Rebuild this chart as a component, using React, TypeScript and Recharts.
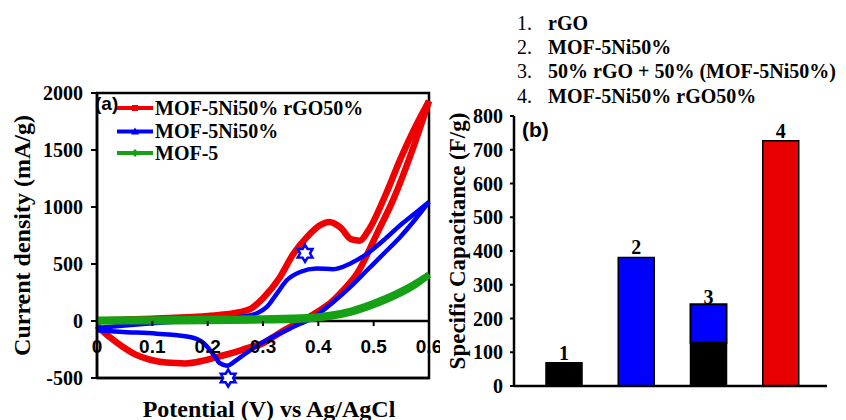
import React from "react"
import {
    ComposedChart,
    Line,
    Scatter,
    XAxis,
    YAxis,
    ReferenceArea,
    ReferenceLine,
    Legend,
    BarChart,
    Bar,
    Cell,
    LabelList
} from "recharts"

const SERIF = '"Liberation Serif", "Times New Roman", serif'
const SANS = '"Liberation Sans", Arial, sans-serif'

// (a) CV loops: forward (anodic) and reverse (cathodic) sweeps, both listed by rising potential
const redFwdV = [0, 0.05, 0.1, 0.15, 0.2, 0.25, 0.28, 0.3, 0.33, 0.355, 0.38, 0.405, 0.42, 0.44, 0.46, 0.475, 0.49, 0.52, 0.55, 0.575, 0.6]
const redFwdJ = [5, 12, 20, 30, 45, 70, 115, 200, 380, 590, 740, 845, 868, 820, 715, 705, 790, 1090, 1440, 1700, 1930]
const redRevV = [0, 0.025, 0.047, 0.07, 0.096, 0.125, 0.16, 0.19, 0.216, 0.245, 0.27, 0.3, 0.325, 0.35, 0.373, 0.395, 0.421, 0.445, 0.47, 0.506, 0.535, 0.57, 0.6]
const redRevJ = [-40, -150, -228, -295, -340, -365, -372, -350, -316, -280, -240, -195, -120, -50, 6, 70, 155, 270, 416, 767, 1060, 1500, 1930]

const blueFwdV = [0, 0.05, 0.1, 0.16, 0.2, 0.246, 0.275, 0.29, 0.307, 0.325, 0.343, 0.367, 0.397, 0.427, 0.458, 0.488, 0.518, 0.548, 0.575, 0.6]
const blueFwdJ = [-62, -40, -20, 0, 12, 30, 48, 70, 123, 240, 357, 430, 460, 455, 505, 590, 708, 840, 945, 1044]
const blueRevV = [0, 0.048, 0.108, 0.168, 0.192, 0.21, 0.222, 0.235, 0.25, 0.27, 0.3, 0.349, 0.397, 0.427, 0.458, 0.488, 0.518, 0.548, 0.575, 0.6]
const blueRevJ = [-82, -96, -111, -140, -190, -290, -370, -392, -350, -280, -185, -65, 50, 167, 300, 445, 590, 737, 890, 1044]

const greenV = [0, 0.1, 0.2, 0.3, 0.38, 0.42, 0.46, 0.5, 0.54, 0.57, 0.6]
const greenFwdJ = [12, 14, 17, 22, 32, 52, 92, 158, 240, 315, 405]
const greenRevJ = [-4, -2, 0, 6, 16, 36, 76, 140, 222, 300, 405]

// redox peak markers
const markV = [0.376, 0.237]
const markJ = [594, -500]

const potentialTicks = [0, 0.1, 0.2, 0.3, 0.4, 0.5, 0.6]
const currentTicks = [-500, 0, 500, 1000, 1500, 2000]

// (b) specific capacitance
const sampleIds = ["1", "2", "3", "4"]
const sampleNames = ["rGO", "MOF-5Ni50%", "50% rGO + 50% (MOF-5Ni50%)", "MOF-5Ni50% rGO50%"]
const baseCapacitance = [69, 381, 128, 727]
const topCapacitance = [0, 0, 114, 0]
const baseLabels = ["1", "2", "", "4"]
const topLabels = ["", "", "3", ""]
const barColors = ["#000000", "#0000FF", "#000000", "#E60000"]
const capacitanceTicks = [0, 100, 200, 300, 400, 500, 600, 700, 800]

const RED = "#F00000"
const BLUE = "#0000FF"
const GREEN = "#16A016"

const toPoints = (v: number[], j: number[]) => v.map((x, i) => ({ v: x, j: j[i] }))

const redFwd = toPoints(redFwdV, redFwdJ)
const redRev = toPoints(redRevV, redRevJ)
const blueFwd = toPoints(blueFwdV, blueFwdJ)
const blueRev = toPoints(blueRevV, blueRevJ)
const greenFwd = toPoints(greenV, greenFwdJ)
const greenRev = toPoints(greenV, greenRevJ)
const marks = toPoints(markV, markJ)

const capData = sampleIds.map((id, i) => ({
    id,
    name: sampleNames[i],
    base: baseCapacitance[i],
    top: topCapacitance[i],
    baseLabel: baseLabels[i],
    topLabel: topLabels[i],
}))

// x ticks of (a) sit under the zero line, not under the plot bottom
// eslint-disable-next-line @typescript-eslint/no-explicit-any
function PotentialTick({ x, y, payload }: any) {
    return (
        <g>
            <line x1={x} x2={x} y1={y - 57} y2={y - 52} stroke="#000" strokeWidth={2} />
            <text x={x} y={y - 25} textAnchor="middle" fontFamily={SANS} fontWeight="bold" fontSize={19} fill="#000">
                {payload.value}
            </text>
        </g>
    )
}

// six-pointed star outline used to flag the peaks
// eslint-disable-next-line @typescript-eslint/no-explicit-any
function Hexagram({ cx, cy }: any) {
    const pts: string[] = []
    for (let k = 0; k < 12; k++) {
        const r = k % 2 === 0 ? 8.5 : 5
        const a = -Math.PI / 2 + (k * Math.PI) / 6
        pts.push(`${cx + r * Math.cos(a)},${cy + r * Math.sin(a)}`)
    }
    return <polygon points={pts.join(" ")} fill="#fff" stroke={BLUE} strokeWidth={2.5} />
}

// eslint-disable-next-line @typescript-eslint/no-explicit-any
const XTitleA = (props: any) => {
    const vb = props.viewBox || { x: 97, y: 378, width: 332, height: 42 }
    return (
        <text x={vb.x + vb.width / 2 + 6} y={vb.y + 39} textAnchor="middle" fontFamily={SERIF} fontWeight="bold" fontSize={24} fill="#000">
            Potential (V) vs Ag/AgCl
        </text>
    )
}

// eslint-disable-next-line @typescript-eslint/no-explicit-any
const YTitleA = (props: any) => {
    const vb = props.viewBox || { x: 0, y: 93, width: 97, height: 285 }
    const cx = vb.x + 22
    const cy = vb.y + vb.height / 2
    return (
        <text transform={`translate(${cx},${cy}) rotate(-90)`} textAnchor="middle" dominantBaseline="central" fontFamily={SERIF} fontWeight="bold" fontSize={24} fill="#000">
            Current density (mA/g)
        </text>
    )
}

// eslint-disable-next-line @typescript-eslint/no-explicit-any
const YTitleB = (props: any) => {
    const vb = props.viewBox || { x: 0, y: 116, width: 74, height: 270 }
    const cx = vb.x + 17
    const cy = vb.y + vb.height / 2 - 10
    return (
        <text transform={`translate(${cx},${cy}) rotate(-90)`} textAnchor="middle" dominantBaseline="central" fontFamily={SERIF} fontWeight="bold" fontSize={23} fill="#000">
            Specific Capacitance (F/g)
        </text>
    )
}

function LegendA() {
    const rows = [
        { label: "MOF-5Ni50% rGO50%", color: RED, y: 16, mark: "square" },
        { label: "MOF-5Ni50%", color: BLUE, y: 39.5, mark: "triangle" },
        { label: "MOF-5", color: GREEN, y: 61, mark: "diamond" },
    ]
    return (
        <svg width={300} height={75} style={{ overflow: "visible" }}>
            <text x={3} y={18} fontFamily={SANS} fontWeight="bold" fontSize={19} fill="#000">(a)</text>
            {rows.map(r => (
                <g key={r.label}>
                    <line x1={25} x2={61} y1={r.y} y2={r.y} stroke={r.color} strokeWidth={4} />
                    {r.mark === "square" && <rect x={40} y={r.y - 3} width={6} height={6} fill={r.color} />}
                    {r.mark === "triangle" && <polygon points={`${43},${r.y - 4} ${47},${r.y + 3} ${39},${r.y + 3}`} fill={r.color} />}
                    {r.mark === "diamond" && <polygon points={`${43},${r.y - 4} ${47},${r.y} ${43},${r.y + 4} ${39},${r.y}`} fill={r.color} />}
                    <text x={63} y={r.y + 6.5} fontFamily={SERIF} fontWeight="bold" fontSize={20} fill="#000">{r.label}</text>
                </g>
            ))}
        </svg>
    )
}

function LegendB() {
    return (
        <svg width={336} height={145} style={{ overflow: "visible" }}>
            {sampleNames.map((name, i) => (
                <g key={name}>
                    <text x={7} y={29.5 + i * 24.4} fontFamily={SERIF} fontSize={20} fill="#000">{`${i + 1}.`}</text>
                    <text x={38} y={29.5 + i * 24.4} fontFamily={SERIF} fontWeight="bold" fontSize={20} fill="#000">{name}</text>
                </g>
            ))}
            <text x={12} y={137} fontFamily={SANS} fontWeight="bold" fontSize={21} fill="#000">(b)</text>
        </svg>
    )
}

const axisStroke = { stroke: "#000", strokeWidth: 2.5 }
const serifTick = { fill: "#000", fontFamily: SERIF, fontWeight: "bold", fontSize: 20 }

function PanelA() {
    const lineProps = { dataKey: "j", type: "monotone" as const, dot: false, activeDot: false, isAnimationActive: false }
    return (
        <ComposedChart width={440} height={420} margin={{ top: 93, right: 11, bottom: 0, left: 0 }}>
            <XAxis
                type="number"
                dataKey="v"
                domain={[0, 0.6]}
                ticks={potentialTicks}
                interval={0}
                height={42}
                tickSize={0}
                tickMargin={0}
                tickLine={false}
                axisLine={axisStroke}
                tick={PotentialTick}
                label={XTitleA}
            />
            <YAxis
                type="number"
                domain={[-500, 2000]}
                ticks={currentTicks}
                interval={0}
                width={97}
                tickSize={6}
                tickMargin={8}
                tickLine={{ stroke: "#000", strokeWidth: 2 }}
                axisLine={axisStroke}
                tick={serifTick}
                label={YTitleA}
            />
            <ReferenceArea x1={0} x2={0.6} y1={-500} y2={2000} fill="none" stroke="#000" strokeWidth={2.5} fillOpacity={0} />
            <ReferenceLine y={0} stroke="#000" strokeWidth={2.5} />
            <Line {...lineProps} data={redFwd} stroke={RED} strokeWidth={6.5} />
            <Line {...lineProps} data={redRev} stroke={RED} strokeWidth={6.5} />
            <Line {...lineProps} data={blueFwd} stroke={BLUE} strokeWidth={4.5} />
            <Line {...lineProps} data={blueRev} stroke={BLUE} strokeWidth={4.5} />
            <Line {...lineProps} data={greenFwd} stroke={GREEN} strokeWidth={6.5} />
            <Line {...lineProps} data={greenRev} stroke={GREEN} strokeWidth={6.5} />
            <Scatter data={marks} dataKey="j" shape={Hexagram} isAnimationActive={false} />
            <Legend
                layout="vertical"
                align="center"
                verticalAlign="middle"
                wrapperStyle={{ position: "absolute", left: 92, top: 92, width: 300, height: 75 }}
                content={() => <LegendA />}
            />
        </ComposedChart>
    )
}

function PanelB() {
    return (
        <BarChart width={406} height={420} data={capData} margin={{ top: 116, right: 19, bottom: 0, left: 0 }} barSize={36}>
            <XAxis dataKey="id" height={34} tick={false} tickLine={false} axisLine={axisStroke} padding={{ left: 14, right: 10 }} />
            <XAxis xAxisId="top" orientation="top" dataKey="id" height={0} tick={false} tickLine={false} axisLine={axisStroke} />
            <YAxis
                domain={[0, 800]}
                ticks={capacitanceTicks}
                interval={0}
                width={74}
                tickSize={4}
                tickMargin={7}
                tickLine={{ stroke: "#000", strokeWidth: 2 }}
                axisLine={axisStroke}
                tick={serifTick}
                label={YTitleB}
            />
            <YAxis yAxisId="right" orientation="right" width={0} domain={[0, 800]} tick={false} tickLine={false} axisLine={axisStroke} />
            <Bar dataKey="base" stackId="s" stroke="#000" strokeWidth={1.5} isAnimationActive={false}>
                {capData.map((_, i) => (
                    <Cell key={`c-${i}`} fill={barColors[i]} />
                ))}
                <LabelList dataKey="baseLabel" position="top" offset={3} fill="#000" fontFamily={SERIF} fontWeight="bold" fontSize={20} />
            </Bar>
            <Bar dataKey="top" stackId="s" fill={BLUE} stroke="#000" strokeWidth={2} isAnimationActive={false}>
                <LabelList dataKey="topLabel" position="top" offset={0} fill="#000" fontFamily={SERIF} fontWeight="bold" fontSize={20} />
            </Bar>
            <Legend
                layout="vertical"
                align="center"
                verticalAlign="middle"
                wrapperStyle={{ position: "absolute", left: 70, top: 0, width: 336, height: 145 }}
                content={() => <LegendB />}
            />
        </BarChart>
    )
}

export default function App() {
    return (
        <div style={{ position: "absolute", left: 0, top: 0, width: 846, height: 420, background: "#fff", overflow: "hidden" }}>
            <div style={{ position: "absolute", left: 0, top: 0 }}>
                <PanelA />
            </div>
            <div style={{ position: "absolute", left: 440, top: 0 }}>
                <PanelB />
            </div>
        </div>
    )
}
